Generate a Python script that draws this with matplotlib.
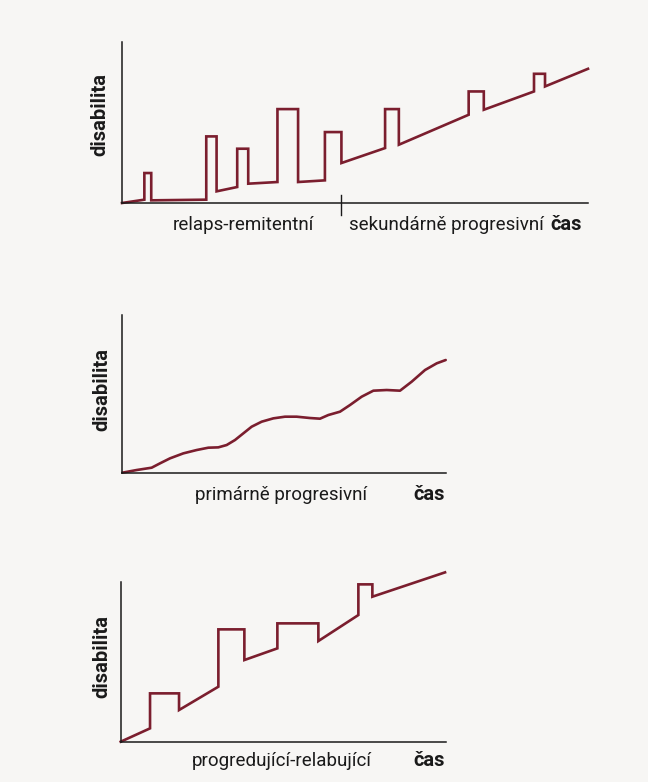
#!/usr/bin/env python3
"""Three schematic MS course curves: disability over time"""

import matplotlib
matplotlib.use("Agg")
import matplotlib.pyplot as plt

# ------------------------------------------------------------------
# Data (arbitrary time / disability units)
# ------------------------------------------------------------------
# relapsing-remitting -> secondary progressive
rr_t = [0, 65, 65, 85, 85, 245, 245, 275, 275, 335, 335, 367, 367, 452, 452,
        512, 512, 590, 590, 638, 638, 765, 765, 805, 805, 1008, 1008, 1052,
        1052, 1198, 1198, 1230, 1230, 1355]
rr_d = [0, 10, 90, 90, 8, 10, 200, 200, 35, 48, 163, 163, 58, 63, 282,
        282, 63, 68, 213, 213, 120, 165, 282, 282, 175, 265, 335, 335,
        280, 335, 388, 388, 350, 403]
rr_split = 638  # boundary between the two phases
rr_xmax, rr_ymax = 1355, 485

# primary progressive
pp_t = [0, 43, 88, 113, 143, 183, 223, 258, 288, 313, 338, 363, 388, 418,
        453, 488, 523, 563, 593, 618, 653, 683, 718, 753, 793, 833, 868,
        908, 943, 970]
pp_d = [0, 8, 15, 28, 43, 58, 68, 75, 76, 83, 98, 118, 138, 153, 163, 168,
        168, 164, 162, 173, 183, 203, 228, 246, 248, 246, 273, 308, 328, 338]
pp_xmax, pp_ymax = 970, 473

# progressive-relapsing
pr_t = [0, 88, 88, 175, 175, 293, 293, 371, 371, 470, 470, 593, 593, 713,
        713, 755, 755, 973]
pr_d = [0, 40, 145, 145, 95, 165, 337, 337, 245, 280, 355, 355, 302, 380,
        472, 472, 435, 508]
pr_xmax, pr_ymax = 975, 480

labels_rr = ["relaps-remitentní", "sekundárně progresivní"]
label_pp = "primárně progresivní"
label_pr = "progredující-relabující"
ylabel = "disabilita"
xlabel = "čas"

# ------------------------------------------------------------------
# Styling
# ------------------------------------------------------------------
W, H = 648, 782
line_c = "#7b1e2e"
bg = "#f7f6f4"
fonts = ["Roboto", "DejaVu Sans"]
fs = 13.5      # regular labels
fs_b = 14.5    # bold labels


def px(x, y):
    return x / W, 1 - y / H


def make_ax(fig, left, top, right, bottom, xmax, ymax):
    ax = fig.add_axes([left / W, 1 - bottom / H, (right - left) / W, (bottom - top) / H])
    ax.set_facecolor("none")
    ax.set_xlim(0, xmax)
    ax.set_ylim(0, ymax)
    for s in ["top", "right"]:
        ax.spines[s].set_visible(False)
    for s in ["left", "bottom"]:
        ax.spines[s].set_linewidth(1.1)
        ax.spines[s].set_color("#1a1a1a")
    ax.set_xticks([])
    ax.set_yticks([])
    return ax


def ftext(fig, x, y, s, bold=False, **kw):
    fig.text(*px(x, y), s, family=fonts, fontsize=fs_b if bold else fs,
             weight="bold" if bold else "normal", color="#1a1a1a", **kw)


fig = plt.figure(figsize=(W / 100, H / 100), dpi=100)
fig.patch.set_facecolor(bg)

# Panel 1
ax1 = make_ax(fig, 122, 41.5, 588, 203, rr_xmax, rr_ymax)
ax1.plot(rr_t, rr_d, color=line_c, lw=1.9, solid_joinstyle="miter", clip_on=False)
ax1.plot([rr_split, rr_split], [-35, 23], color="#1a1a1a", lw=1.0, clip_on=False)
ftext(fig, 243, 230, labels_rr[0], ha="center", va="baseline")
ftext(fig, 349, 230, labels_rr[1], ha="left", va="baseline")
ftext(fig, 582, 230, xlabel, bold=True, ha="right", va="baseline")
ftext(fig, 100, 115, ylabel, bold=True, ha="center", va="center", rotation=90)

# Panel 2
ax2 = make_ax(fig, 122.3, 315, 445.7, 472.7, pp_xmax, pp_ymax)
ax2.plot(pp_t, pp_d, color=line_c, lw=1.9, solid_joinstyle="round",
         solid_capstyle="round", clip_on=False)
ftext(fig, 281, 500, label_pp, ha="center", va="baseline")
ftext(fig, 445, 500, xlabel, bold=True, ha="right", va="baseline")
ftext(fig, 102, 389, ylabel, bold=True, ha="center", va="center", rotation=90)

# Panel 3
ax3 = make_ax(fig, 120.7, 581.7, 445.7, 741.7, pr_xmax, pr_ymax)
ax3.plot(pr_t, pr_d, color=line_c, lw=1.9, solid_joinstyle="miter", clip_on=False)
ftext(fig, 282, 766, label_pr, ha="center", va="baseline")
ftext(fig, 445, 766, xlabel, bold=True, ha="right", va="baseline")
ftext(fig, 102, 657, ylabel, bold=True, ha="center", va="center", rotation=90)

fig.savefig("out.png", dpi=100, facecolor=bg)
